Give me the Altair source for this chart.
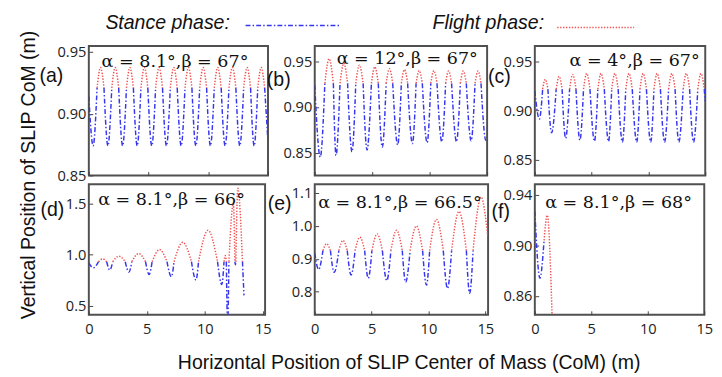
import altair as alt
import pandas as pd

# ---------------- data ----------------
# Each panel: start point, alternating extrema (troughs/apexes), transition
# points (touchdown / liftoff) between them, end point.

# (a) alpha = 8.1, beta = 67
A_START = (0.0, 0.914)
A_EXT_X = [0.36, 0.98, 1.60, 2.21, 2.83, 3.44, 4.05, 4.65, 5.27, 5.88, 6.50, 7.11,
           7.73, 8.34, 8.96, 9.57, 10.18, 10.79, 11.41, 12.02, 12.64, 13.25, 13.84, 14.43]
A_EXT_Y = [0.874, 0.9375, 0.874, 0.9375, 0.874, 0.9375, 0.874, 0.9375, 0.874, 0.9375, 0.874, 0.9375,
           0.874, 0.9375, 0.874, 0.9375, 0.874, 0.9375, 0.874, 0.9375, 0.874, 0.9375, 0.874, 0.9375]
A_TR_X = [0.69, 1.27, 1.92, 2.50, 3.15, 3.73, 4.36, 4.94, 5.59, 6.17, 6.82, 7.40,
          8.05, 8.63, 9.28, 9.86, 10.50, 11.08, 11.73, 12.31, 12.96, 13.54, 14.14, 14.72]
A_TR_Y = 0.921
A_END = (14.98, 0.880)

# (b) alpha = 12, beta = 67
B_START = (0.0, 0.924)
B_EXT_X = [0.48, 1.25, 1.85, 2.53, 3.24, 3.89, 4.55, 5.23, 5.88, 6.50, 7.22, 7.81,
           8.50, 9.09, 9.78, 10.37, 11.06, 11.65, 12.34, 12.93, 13.61, 14.21, 14.89]
B_EXT_Y = [0.845, 0.953, 0.847, 0.948, 0.851, 0.946, 0.853, 0.944, 0.856, 0.942, 0.8585, 0.941,
           0.860, 0.940, 0.861, 0.940, 0.862, 0.9395, 0.862, 0.9395, 0.863, 0.9395, 0.8635]
B_TR_X = [0.88, 1.62, 2.20, 2.86, 3.57, 4.21, 4.93, 5.53, 6.215, 6.785, 7.535, 8.085,
          8.82, 9.36, 10.10, 10.64, 11.39, 11.91, 12.67, 13.19, 13.95, 14.47]
B_TR_Y = 0.926
B_END = (14.97, 0.866)

# (c) alpha = 4, beta = 67
C_START = (0.0, 0.920)
C_EXT_X = [0.40, 0.92, 1.48, 2.14, 2.71, 3.34, 3.97, 4.57, 5.25, 5.83, 6.49, 7.05,
           7.71, 8.29, 8.97, 9.54, 10.20, 10.77, 11.42, 12.06, 12.68, 13.34, 13.97, 14.63]
C_EXT_Y = [0.8915, 0.932, 0.8775, 0.935, 0.872, 0.937, 0.870, 0.938, 0.869, 0.938, 0.8687, 0.938,
           0.868, 0.938, 0.868, 0.938, 0.868, 0.938, 0.868, 0.938, 0.868, 0.938, 0.868, 0.938]
C_TR_X = [0.69, 1.15, 1.88, 2.40, 3.06, 3.62, 4.285, 4.855, 5.545, 6.115, 6.765, 7.335,
          8.005, 8.575, 9.255, 9.825, 10.485, 11.055, 11.775, 12.345, 13.055, 13.625, 14.345, 14.915]
C_TR_Y = 0.922
C_END = (14.99, 0.910)

# (d) alpha = 8.1, beta = 66
D_START = (0.0, 0.919)
D_EXT_X = [0.39, 1.19, 1.81, 2.60, 3.45, 4.30, 5.20, 6.10, 7.12, 8.10, 9.24, 10.28,
           11.47, 11.76, 11.97, 12.46, 12.64, 12.85]
D_EXT_Y = [0.870, 0.958, 0.848, 0.984, 0.828, 1.010, 0.805, 1.049, 0.783, 1.120, 0.750, 1.238,
           0.707, 0.990, 0.300, 1.500, 0.900, 1.650]
D_TR_X = [0.84, 1.54, 2.06, 3.14, 3.71, 4.89, 5.46, 6.74, 7.35, 8.85, 9.46, 11.10,
          11.66, 11.86, 12.08, 12.60, 12.68, 13.25]
D_TR_Y = 0.930
D_END = (13.38, 0.600)

# (e) alpha = 8.1, beta = 66.5
E_START = (0.0, 0.917)
E_EXT_X = [0.34, 1.05, 1.71, 2.49, 3.20, 3.97, 4.71, 5.49, 6.34, 7.20, 8.00, 8.94,
           9.83, 10.71, 11.68, 12.69, 13.63, 14.63]
E_EXT_Y = [0.868, 0.946, 0.859, 0.956, 0.851, 0.966, 0.841, 0.976, 0.834, 0.987, 0.829, 1.000,
           0.820, 1.020, 0.810, 1.044, 0.795, 1.088]
E_TR_X = [0.72, 1.38, 2.12, 2.86, 3.55, 4.39, 5.03, 5.95, 6.70, 7.70, 8.39, 9.49,
          10.11, 11.31, 12.04, 13.34, 13.93]
E_TR_Y = 0.925
E_END = (15.22, 0.970)

# (f) alpha = 8.1, beta = 68
F_START = (0.0, 0.927)
F_EXT_X = [0.45, 1.10]
F_EXT_Y = [0.874, 0.924]
F_TR_X = [0.82]
F_TR_Y = 0.904
F_END = (1.56, 0.835)

PHASES = ["stance", "flight"]
COLORS = ["#3636ee", "#f05252"]
DASHES = [[5, 2.2, 1.5, 2.2], [1.4, 1.6]]


def build(start, ext_x, ext_y, tr_x, tr_y, end, first="stance"):
    pts = [(start[0], start[1], False)]
    for k in range(len(ext_x)):
        pts.append((ext_x[k], ext_y[k], False))
        if k < len(tr_x):
            pts.append((tr_x[k], tr_y, True))
    pts.append((end[0], end[1], False))
    rows, seg, phase, i = [], 0, first, 0
    for x, y, is_tr in pts:
        rows.append(dict(x=x, y=y, phase=phase, seg=seg, i=i))
        i += 1
        if is_tr:
            seg += 1
            phase = "flight" if phase == "stance" else "stance"
            rows.append(dict(x=x, y=y, phase=phase, seg=seg, i=i))
            i += 1
    return pd.DataFrame(rows)


LABEL_FONT = "Open Sans"
SANS = "Liberation Sans"
SERIF = "DejaVu Serif"


def text_layer(s, x, y, font, size, align="center", style="normal", color="#111"):
    return alt.Chart(pd.DataFrame({"t": [s]})).mark_text(
        font=font, fontSize=size, align=align, baseline="alphabetic",
        fontStyle=style, color=color
    ).encode(text="t:N", x=alt.value(x), y=alt.value(y))


def rule_layer(x1, x2, y, color, dash):
    return alt.Chart(pd.DataFrame({"r": [0]})).mark_rule(
        color=color, strokeDash=dash, strokeWidth=1.6
    ).encode(x=alt.value(x1), x2=alt.value(x2), y=alt.value(y))


def panel(df, w, h, xdom, ydom, yvals, yfmt, xlabels, ann, ann_xy, letter, let_xy,
          extras=(), ytitle=None, xtitle=None):
    xaxis = dict(values=[0, 5, 10, 15], labels=xlabels, labelFont=LABEL_FONT, labelFontSize=15,
                 labelColor="#222", labelPadding=7, domain=False, ticks=True, tickSize=4,
                 tickColor="#444", offset=-4, grid=False, labelFlush=False, title=None)
    if xtitle:
        xaxis.update(title=xtitle, titleX=xtitle_pos[0], titleY=xtitle_pos[1], titleFont=SANS,
                     titleFontSize=20, titleFontWeight="normal", titleBaseline="alphabetic",
                     titleAlign="center", titleColor="#111")
    yaxis = dict(values=yvals, format=yfmt, labelFont=LABEL_FONT, labelFontSize=15,
                 labelColor="#222", labelPadding=3, domain=False, ticks=True, tickSize=4,
                 tickColor="#444", offset=-4, grid=False, title=None)
    if ytitle:
        yaxis.update(title=ytitle, titleX=ytitle_pos[0], titleY=ytitle_pos[1], titleFont=SANS,
                     titleFontSize=20, titleFontWeight="normal", titleBaseline="alphabetic",
                     titleAlign="center", titleAngle=270, titleColor="#111")
    line = alt.Chart(df).mark_line(clip=True, strokeWidth=1.5, interpolate="monotone").encode(
        x=alt.X("x:Q", scale=alt.Scale(domain=xdom, nice=False, zero=False), axis=alt.Axis(**xaxis)),
        y=alt.Y("y:Q", scale=alt.Scale(domain=ydom, nice=False, zero=False), axis=alt.Axis(**yaxis)),
        color=alt.Color("phase:N", scale=alt.Scale(domain=PHASES, range=COLORS), legend=None),
        strokeDash=alt.StrokeDash("phase:N", scale=alt.Scale(domain=PHASES, range=DASHES), legend=None),
        detail="seg:N",
        order="i:Q",
    )
    layers = [line,
              text_layer(ann, ann_xy[0], ann_xy[1], SERIF, 18),
              text_layer(letter, let_xy[0], let_xy[1], SANS, 20)]
    layers += list(extras)
    return alt.layer(*layers).properties(width=w, height=h)


ytitle_pos = (-60, 132)
xtitle_pos = (96.5, 59)

dfa = build(A_START, A_EXT_X, A_EXT_Y, A_TR_X, A_TR_Y, A_END)
dfb = build(B_START, B_EXT_X, B_EXT_Y, B_TR_X, B_TR_Y, B_END)
dfc = build(C_START, C_EXT_X, C_EXT_Y, C_TR_X, C_TR_Y, C_END)
dfd = build(D_START, D_EXT_X, D_EXT_Y, D_TR_X, D_TR_Y, D_END)
dfe = build(E_START, E_EXT_X, E_EXT_Y, E_TR_X, E_TR_Y, E_END)
dff = build(F_START, F_EXT_X, F_EXT_Y, F_TR_X, F_TR_Y, F_END)

pa = panel(dfa, 184, 133, [0, 15], [0.85, 0.955], [0.85, 0.90, 0.95], ".2f", False,
           "α = 8.1°,β = 67°", (88.5, 22), "(a)", (-38.5, 37),
           extras=[text_layer("Stance phase:", 17, -17, SANS, 20, align="left", style="italic"),
                   rule_layer(161, 258, -21, COLORS[0], DASHES[0])],
           ytitle="Vertical Position of SLIP CoM (m)")
pb = panel(dfb, 177, 133, [0, 15], [0.825, 0.967], [0.85, 0.90, 0.95], ".2f", False,
           "α = 12°,β = 67°", (95, 19), "(b)", (-37, 41),
           extras=[text_layer("Flight phase:", 121, -17, SANS, 20, align="left", style="italic")])
pc = panel(dfc, 175, 133, [0, 15], [0.834, 0.966], [0.85, 0.90, 0.95], ".2f", False,
           "α = 4°,β = 67°", (102.5, 21), "(c)", (-36.5, 38),
           extras=[rule_layer(23, 102, -19, COLORS[1], DASHES[1])])
pd_ = panel(dfd, 181, 134, [0, 15.2], [0.41, 1.69], [0.5, 1.0, 1.5], ".1f", True,
            "α = 8.1°,β = 66°", (85, 21), "(d)", (-37.5, 33))
pe = panel(dfe, 178, 134, [0, 15.25], [0.73, 1.127], [0.8, 0.9, 1.0, 1.1], ".1f", True,
           "α = 8.1°,β = 66.5°", (87.5, 24), "(e)", (-36, 26),
           xtitle="Horizontal Position of SLIP Center of Mass (CoM) (m)")
pf = panel(dff, 174, 134, [0, 15], [0.845, 0.9485], [0.86, 0.90, 0.94], ".2f", True,
           "α = 8.1°,β = 68°", (86, 24), "(f)", (-35, 35))

chart = alt.concat(pa, pb, pc, pd_, pe, pf, columns=3,
                   spacing={"row": 9, "column": 48}, bounds="flush").properties(
    padding={"left": 9, "top": 0, "right": 0, "bottom": 0},
    background="white",
).configure_view(stroke="#505050", strokeWidth=2)

chart.save("out.html", embed_options={"renderer": "svg", "actions": False})
